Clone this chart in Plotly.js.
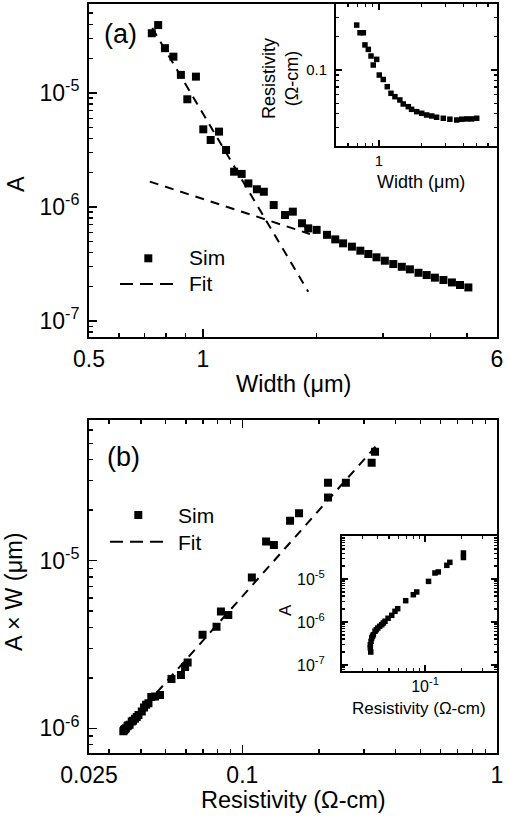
<!DOCTYPE html>
<html>
<head>
<meta charset="utf-8">
<script src="https://cdn.plot.ly/plotly-3.0.1.min.js"></script>
<style>html,body{margin:0;padding:0;background:#fff;}#chart{width:510px;height:818px;}</style>
</head>
<body>
<div id="chart"></div>
<script>
// ---------------- data ----------------
// Panel (a): simulated A vs width
const widthA = [0.733,0.762,0.794,0.836,0.875,0.910,0.959,1.003,1.049,1.104,1.152,1.21,1.267,1.32,1.39,1.45,1.54,1.65,1.73,1.83,1.90,2.00,2.13,2.24,2.35,2.48,2.61,2.74,2.88,3.03,3.19,3.36,3.53,3.72,3.91,4.11,4.33,4.56,4.79,5.04];
const ampA = [3.34e-5,3.94e-5,2.47e-5,2.08e-5,1.44e-5,8.8e-6,1.39e-5,4.8e-6,3.87e-6,4.58e-6,3.16e-6,2.04e-6,1.95e-6,1.61e-6,1.43e-6,1.36e-6,1.04e-6,8.5e-7,9.1e-7,7.2e-7,6.5e-7,6.3e-7,5.7e-7,5.2e-7,4.8e-7,4.49e-7,4.14e-7,3.87e-7,3.62e-7,3.38e-7,3.16e-7,2.99e-7,2.84e-7,2.65e-7,2.53e-7,2.40e-7,2.29e-7,2.18e-7,2.07e-7,1.97e-7];
// Panel (a): the two fit lines
const fitSteepWidth = [0.735, 1.90];
const fitSteepAmp = [3.72e-5, 1.81e-7];
const fitShallowWidth = [0.724, 1.92];
const fitShallowAmp = [1.67e-6, 5.8e-7];
// Inset (a): resistivity vs width
const insetWidth = [0.693,0.732,0.773,0.794,0.839,0.877,0.910,0.963,1.005,1.073,1.146,1.218,1.30,1.41,1.49,1.62,1.71,1.86,2.02,2.19,2.38,2.58,2.88,3.21,3.59,3.90,4.23,4.59,4.99];
const insetRho = [0.256,0.218,0.218,0.169,0.154,0.134,0.111,0.125,0.090,0.082,0.0705,0.0614,0.0572,0.0534,0.0491,0.0464,0.0439,0.0418,0.0404,0.039,0.0382,0.0372,0.0364,0.0357,0.0351,0.0357,0.0359,0.0359,0.0364];
// Panel (b): A x W vs resistivity
const rhoB = [0.332,0.322,0.255,0.217,0.217,0.167,0.154,0.133,0.124,0.109,0.0881,0.0824,0.0792,0.0698,0.0610,0.0596,0.0574,0.0527,0.0475,0.0454,0.0439,0.0428,0.0419,0.0411,0.0403,0.0391,0.0385,0.0379,0.0372,0.0368,0.0361,0.0356,0.0354,0.0349,0.0346,0.0344,0.0343,0.0341];
const awB = [4.47e-5,3.84e-5,2.92e-5,2.92e-5,2.38e-5,1.92e-5,1.73e-5,1.24e-5,1.30e-5,7.94e-6,4.74e-6,4.98e-6,4.04e-6,3.61e-6,2.47e-6,2.32e-6,2.08e-6,1.97e-6,1.58e-6,1.55e-6,1.54e-6,1.41e-6,1.38e-6,1.33e-6,1.26e-6,1.20e-6,1.17e-6,1.14e-6,1.11e-6,1.10e-6,1.05e-6,1.04e-6,1.03e-6,1.0e-6,9.9e-7,9.8e-7,9.75e-7,9.6e-7];
const fitRhoB = [0.0346, 0.338];
const fitAwB = [1.0e-6, 4.90e-5];
// Inset (b): A vs resistivity
const insetRhoB = [0.209,0.209,0.161,0.152,0.129,0.121,0.107,0.0853,0.0799,0.0690,0.0592,0.0562,0.0528,0.0492,0.0464,0.0449,0.0436,0.0419,0.0404,0.0393,0.0383,0.0371,0.0365,0.0360,0.0355,0.0350,0.0350,0.0353];
const insetAmpB = [4.03e-5,3.16e-5,2.44e-5,2.08e-5,1.46e-5,1.38e-5,8.8e-6,4.99e-6,4.31e-6,3.13e-6,2.04e-6,1.77e-6,1.43e-6,1.22e-6,1.04e-6,9.5e-7,8.65e-7,7.94e-7,7.24e-7,6.62e-7,6.08e-7,5.07e-7,4.65e-7,4.25e-7,3.56e-7,2.96e-7,2.48e-7,2.0e-7];

// tick labels
const xTicksA = [0.5, 1, 6], xTickTextA = ['0.5', '1', '6'];
const yTicksA = [1e-7, 1e-6, 1e-5], yTickTextA = ['10<sup>-7</sup>', '10<sup>-6</sup>', '10<sup>-5</sup>'];
const xTicksB = [0.025, 0.1, 1], xTickTextB = ['0.025', '0.1', '1'];
const yTicksB = [1e-6, 1e-5], yTickTextB = ['10<sup>-6</sup>', '10<sup>-5</sup>'];
const xTicksInA = [1], xTickTextInA = ['1'];
const yTicksInA = [0.1], yTickTextInA = ['0.1'];
const xTicksInB = [0.1], xTickTextInB = ['10<sup>-1</sup>'];
const yTicksInB = [1e-7, 1e-6, 1e-5], yTickTextInB = ['10<sup>-7</sup>', '10<sup>-6</sup>', '10<sup>-5</sup>'];

// ---------------- layout helpers ----------------
const W = 510, H = 818;
const px = v => v / W;
const py = v => 1 - v / H;
const FONT = 'Liberation Sans, Arial, sans-serif';
const L10 = Math.log10;
function decMinor(lo, hi) { // minor log ticks 2..9 per decade
  const out = [];
  for (let e = Math.floor(L10(lo)) - 1; e <= Math.ceil(L10(hi)); e++) {
    for (let m = 2; m <= 9; m++) { const v = m * Math.pow(10, e); if (v > lo * 1.0001 && v < hi * 0.9999) out.push(v); }
  }
  return out;
}
function axis(o) {
  return Object.assign({
    type: 'log', showgrid: false, zeroline: false, showline: true, linecolor: '#000', linewidth: 2,
    ticks: 'inside', tickcolor: '#000', tickwidth: 1.5, ticklen: 8, tickmode: 'array',
    tickfont: { family: FONT, size: 23, color: '#000' }, mirror: true, fixedrange: true
  }, o);
}

const mk = (x, y, xa, ya, size) => ({ x, y, xaxis: xa, yaxis: ya, type: 'scatter', mode: 'markers',
  marker: { symbol: 'square', size: size, color: '#000' }, hoverinfo: 'skip', showlegend: false });
const ln = (x, y, xa, ya) => ({ x, y, xaxis: xa, yaxis: ya, type: 'scatter', mode: 'lines',
  line: { color: '#000', width: 2, dash: '9px,7px' }, hoverinfo: 'skip', showlegend: false });

const traces = [
  ln(fitSteepWidth, fitSteepAmp, 'x', 'y'),
  ln(fitShallowWidth, fitShallowAmp, 'x', 'y'),
  mk(widthA, ampA, 'x', 'y', 8),
  mk(insetWidth, insetRho, 'x2', 'y2', 5.5),
  ln(fitRhoB, fitAwB, 'x3', 'y3'),
  mk(rhoB, awB, 'x3', 'y3', 8),
  mk(insetRhoB, insetAmpB, 'x4', 'y4', 5.5)
];

const rA = [L10(0.5), L10(6)], rAy = [-7.14, -4.22];
const rB = [L10(0.025), 0], rBy = [-6.149, -4.161];
const minorStyle = (vals, len, w) => ({ tickmode: 'array', tickvals: vals, ticks: 'inside', ticklen: len, tickcolor: '#000', tickwidth: w });

const layout = {
  width: W, height: H, margin: { l: 0, r: 0, t: 0, b: 0 },
  paper_bgcolor: '#fff', plot_bgcolor: 'rgba(0,0,0,0)', showlegend: false,
  font: { family: FONT, color: '#000' },
  // main (a)
  xaxis: axis({ domain: [px(89), px(497)], anchor: 'y', range: rA, tickvals: xTicksA, ticktext: xTickTextA,
    minor: minorStyle([0.6,0.7,0.8,0.9,2,3,4,5], 4, 1.5) }),
  yaxis: axis({ domain: [py(337), py(4)], anchor: 'x', range: rAy, tickvals: yTicksA, ticktext: yTickTextA, ticklabelstandoff: 3,
    minor: minorStyle(decMinor(7.2e-8, 6e-5), 4, 1.5) }),
  xaxis5: axis({ overlaying: 'x', side: 'top', anchor: 'y', range: rA, tickvals: [1], showticklabels: false, showline: false, mirror: false,
    minor: minorStyle([0.6,0.7,0.8,0.9,2], 4, 1.5) }),
  yaxis5: axis({ overlaying: 'y', side: 'right', anchor: 'x', range: rAy, tickvals: [1e-7, 1e-6], showticklabels: false, showline: false, mirror: false,
    minor: minorStyle(decMinor(7.2e-8, 2.5e-6), 4, 1.5) }),
  // inset (a)
  xaxis2: axis({ domain: [px(336), px(497)], anchor: 'y2', range: [-0.307, 0.843], tickvals: xTicksInA, ticktext: xTickTextInA,
    ticklen: 6, mirror: 'allticks', tickfont: { family: FONT, size: 15, color: '#000' },
    minor: minorStyle([0.6,0.7,0.8,0.9,2,3,4,5,6], 3, 1.2) }),
  yaxis2: axis({ domain: [py(146), py(4)], anchor: 'x2', range: [-1.691, -0.4], tickvals: yTicksInA, ticktext: yTickTextInA,
    ticklen: 6, mirror: 'allticks', ticklabelstandoff: 4, tickfont: { family: FONT, size: 15, color: '#000' },
    minor: minorStyle([0.03,0.04,0.05,0.06,0.07,0.08,0.09,0.2,0.3], 3, 1.2) }),
  // main (b)
  xaxis3: axis({ domain: [px(89), px(497)], anchor: 'y3', range: rB, tickvals: xTicksB, ticktext: xTickTextB, mirror: 'allticks',
    minor: minorStyle([0.03,0.04,0.05,0.06,0.07,0.08,0.09,0.2,0.3,0.4,0.5,0.6,0.7,0.8,0.9], 4, 1.5) }),
  yaxis3: axis({ domain: [py(753.3), py(420)], anchor: 'x3', range: rBy, tickvals: yTicksB, ticktext: yTickTextB, ticklabelstandoff: 3,
    minor: minorStyle(decMinor(7.1e-7, 6.9e-5), 4, 1.5) }),
  yaxis6: axis({ overlaying: 'y3', side: 'right', anchor: 'x3', range: rBy, tickvals: [1e-6], showticklabels: false, showline: false, mirror: false,
    minor: minorStyle([8e-7, 9e-7, 2e-6, 2e-5, 3e-5, 4e-5, 5e-5, 6e-5], 4, 1.5) }),
  // inset (b)
  xaxis4: axis({ domain: [px(342), px(497)], anchor: 'y4', range: [-1.692, -0.4], tickvals: xTicksInB, ticktext: xTickTextInB,
    ticklen: 6, mirror: 'allticks', tickfont: { family: FONT, size: 16, color: '#000' },
    minor: minorStyle([0.03,0.04,0.05,0.06,0.07,0.08,0.09,0.2,0.3], 3, 1.2) }),
  yaxis4: axis({ domain: [py(671), py(536)], anchor: 'x4', range: [-7.14, -4.0], tickvals: yTicksInB, ticktext: yTickTextInB,
    ticklen: 6, mirror: 'allticks', ticklabelstandoff: 12, tickfont: { family: FONT, size: 16, color: '#000' },
    minor: minorStyle(decMinor(7.3e-8, 1e-4), 3, 1.2) }),
  shapes: [
    // legend glyphs (a)
    { type: 'rect', xref: 'paper', yref: 'paper', x0: px(144.3), x1: px(152.3), y0: py(262.3), y1: py(254.3), fillcolor: '#000', line: { width: 0 } },
    { type: 'line', xref: 'paper', yref: 'paper', x0: px(120), x1: px(174), y0: py(284), y1: py(284), line: { color: '#000', width: 2, dash: '13px,7px' } },
    // legend glyphs (b)
    { type: 'rect', xref: 'paper', yref: 'paper', x0: px(134.3), x1: px(142.3), y0: py(519), y1: py(511), fillcolor: '#000', line: { width: 0 } },
    { type: 'line', xref: 'paper', yref: 'paper', x0: px(110), x1: px(164), y0: py(541.7), y1: py(541.7), line: { color: '#000', width: 2, dash: '13px,7px' } }
  ],
  annotations: [
    { text: '(a)', x: px(120), y: py(34), xref: 'paper', yref: 'paper', showarrow: false, font: { size: 27 }, xanchor: 'center', yanchor: 'middle' },
    { text: '(b)', x: px(123), y: py(457), xref: 'paper', yref: 'paper', showarrow: false, font: { size: 27 }, xanchor: 'center', yanchor: 'middle' },
    { text: 'Sim', x: px(187), y: py(258), xref: 'paper', yref: 'paper', showarrow: false, font: { size: 21 }, xanchor: 'left', yanchor: 'middle' },
    { text: 'Fit', x: px(187), y: py(284), xref: 'paper', yref: 'paper', showarrow: false, font: { size: 21 }, xanchor: 'left', yanchor: 'middle' },
    { text: 'Sim', x: px(176), y: py(515), xref: 'paper', yref: 'paper', showarrow: false, font: { size: 21 }, xanchor: 'left', yanchor: 'middle' },
    { text: 'Fit', x: px(176), y: py(542), xref: 'paper', yref: 'paper', showarrow: false, font: { size: 21 }, xanchor: 'left', yanchor: 'middle' },
    // axis titles
    { text: 'Width (\u03bcm)', x: px(293), y: py(384), xref: 'paper', yref: 'paper', showarrow: false, font: { size: 23.5 }, xanchor: 'center', yanchor: 'middle' },
    { text: 'A', x: px(16), y: py(184), xref: 'paper', yref: 'paper', showarrow: false, font: { size: 23.5 }, textangle: -90, xanchor: 'center', yanchor: 'middle' },
    { text: 'Resistivity (\u03a9-cm)', x: px(293), y: py(800), xref: 'paper', yref: 'paper', showarrow: false, font: { size: 23.5 }, xanchor: 'center', yanchor: 'middle' },
    { text: 'A \u00d7 W (\u03bcm)', x: px(14), y: py(592), xref: 'paper', yref: 'paper', showarrow: false, font: { size: 23.5 }, textangle: -90, xanchor: 'center', yanchor: 'middle' },
    // inset titles
    { text: 'Width (\u03bcm)', x: px(421), y: py(182), xref: 'paper', yref: 'paper', showarrow: false, font: { size: 18 }, xanchor: 'center', yanchor: 'middle' },
    { text: 'Resistivity<br>(\u03a9-cm)', x: px(281), y: py(79), xref: 'paper', yref: 'paper', showarrow: false, font: { size: 18 }, textangle: -90, xanchor: 'center', yanchor: 'middle' },
    { text: 'Resistivity (\u03a9-cm)', x: px(419), y: py(708), xref: 'paper', yref: 'paper', showarrow: false, font: { size: 17 }, xanchor: 'center', yanchor: 'middle' },
    { text: 'A', x: px(285), y: py(610), xref: 'paper', yref: 'paper', showarrow: false, font: { size: 17 }, textangle: -90, xanchor: 'center', yanchor: 'middle' }
  ]
};

Plotly.newPlot('chart', traces, layout, { staticPlot: true, displayModeBar: false });
</script>
</body>
</html>
